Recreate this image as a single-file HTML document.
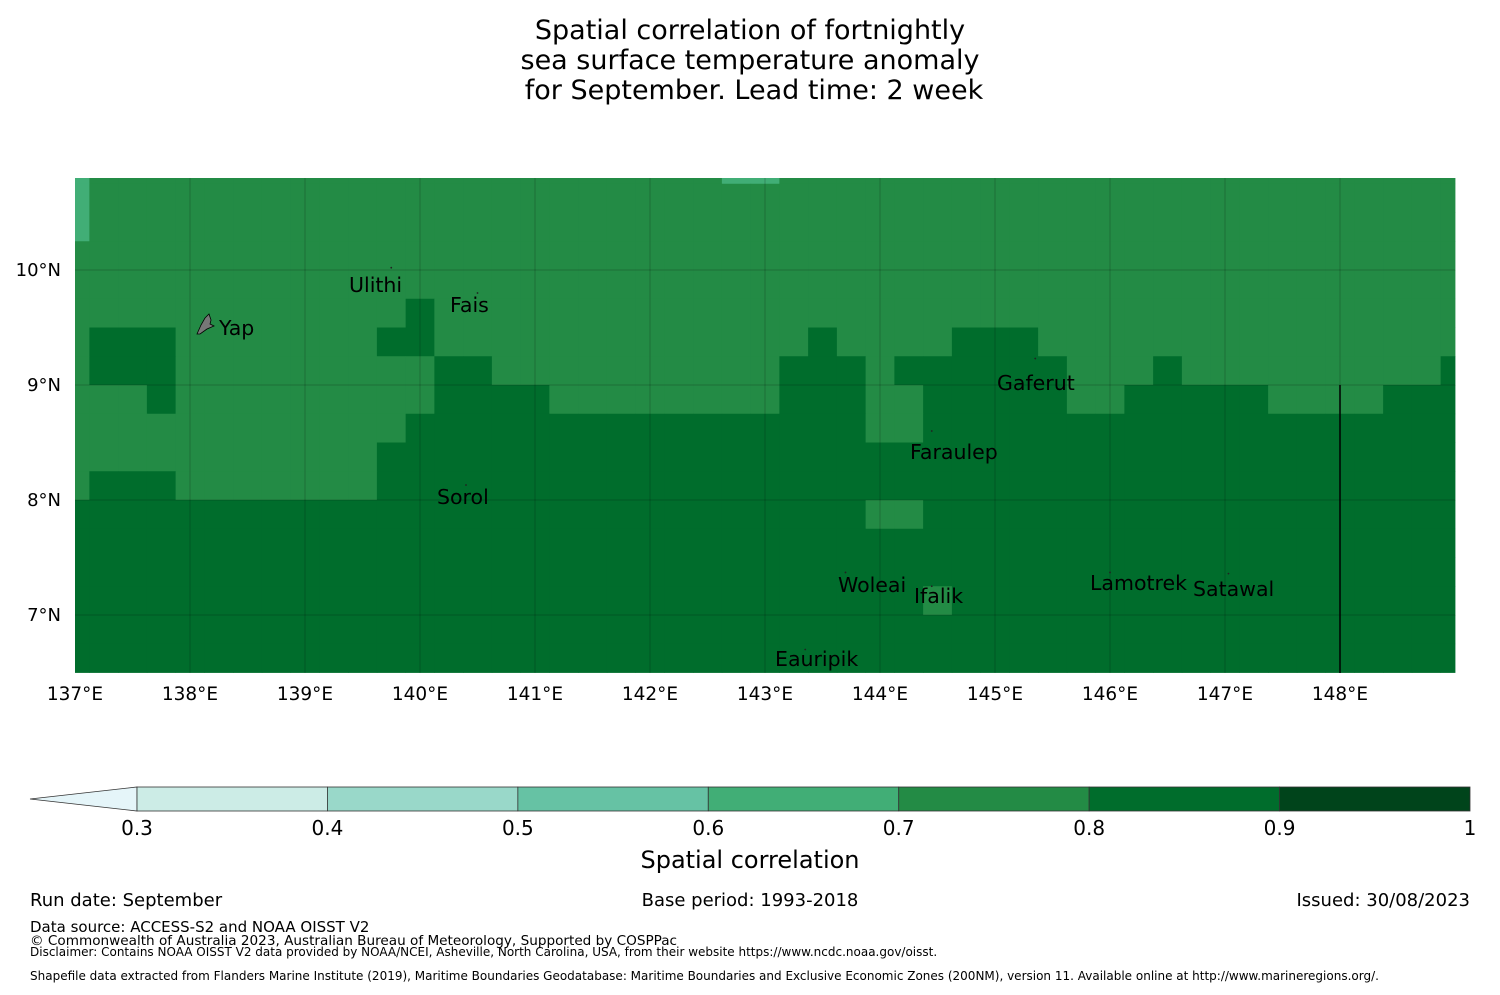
<!DOCTYPE html>
<html><head><meta charset="utf-8">
<style>
body{margin:0;background:#fff;font-family:"Liberation Sans","DejaVu Sans",sans-serif;}
svg text{font-family:"DejaVu Sans","Liberation Sans",sans-serif;}
</style></head>
<body>
<svg id="chart" width="1500" height="990" viewBox="0 0 1500 990" xmlns="http://www.w3.org/2000/svg">
<g font-size="27" text-anchor="middle" fill="#000">
<text x="750" y="39">Spatial correlation of fortnightly</text>
<text x="750" y="69">sea surface temperature anomaly</text>
<text x="754" y="99">for September. Lead time: 2 week</text>
</g>
<g id="map"></g>
<g id="cbar"></g>
<g fill="#000">
<text x="30" y="906" font-size="18">Run date: September</text>
<text x="750" y="906" font-size="18" text-anchor="middle">Base period: 1993-2018</text>
<text x="1470" y="906" font-size="18" text-anchor="end">Issued: 30/08/2023</text>
<text x="30" y="932" font-size="15">Data source: ACCESS-S2 and NOAA OISST V2</text>
<text x="30" y="945" font-size="13.6">© Commonwealth of Australia 2023, Australian Bureau of Meteorology, Supported by COSPPac</text>
<text x="30" y="956" font-size="12">Disclaimer: Contains NOAA OISST V2 data provided by NOAA/NCEI, Asheville, North Carolina, USA, from their website https://www.ncdc.noaa.gov/oisst.</text>
<text x="30" y="980" font-size="12">Shapefile data extracted from Flanders Marine Institute (2019), Maritime Boundaries Geodatabase: Maritime Boundaries and Exclusive Economic Zones (200NM), version 11. Available online at http://www.marineregions.org/.</text>
</g>
</svg>
<script>
const rowCodes = [
"LMMMMMMMMMMMMMMMMMMMMMMLLMMMMMMMMMMMMMMMMMMMMMMMM",
"LMMMMMMMMMMMMMMMMMMMMMMMMMMMMMMMMMMMMMMMMMMMMMMMM",
"LMMMMMMMMMMMMMMMMMMMMMMMMMMMMMMMMMMMMMMMMMMMMMMMM",
"MMMMMMMMMMMMMMMMMMMMMMMMMMMMMMMMMMMMMMMMMMMMMMMMM",
"MMMMMMMMMMMMMMMMMMMMMMMMMMMMMMMMMMMMMMMMMMMMMMMMM",
"MMMMMMMMMMMMDMMMMMMMMMMMMMMMMMMMMMMMMMMMMMMMMMMMM",
"MDDDMMMMMMMDDMMMMMMMMMMMMMDMMMMDDDMMMMMMMMMMMMMMM",
"MDDDMMMMMMMMMDDMMMMMMMMMMDDDMDDDDDDMMMDMMMMMMMMMD",
"MMMDMMMMMMMMMDDDDMMMMMMMMDDDMMDDDDDMMDDDDDMMMMDDD",
"MMMMMMMMMMMMDDDDDDDDDDDDDDDDMMDDDDDDDDDDDDDDDDDDD",
"MMMMMMMMMMMDDDDDDDDDDDDDDDDDDDDDDDDDDDDDDDDDDDDDD",
"MDDDMMMMMMMDDDDDDDDDDDDDDDDDDDDDDDDDDDDDDDDDDDDDD",
"DDDDDDDDDDDDDDDDDDDDDDDDDDDDMMDDDDDDDDDDDDDDDDDDD",
"DDDDDDDDDDDDDDDDDDDDDDDDDDDDDDDDDDDDDDDDDDDDDDDDD",
"DDDDDDDDDDDDDDDDDDDDDDDDDDDDDDDDDDDDDDDDDDDDDDDDD",
"DDDDDDDDDDDDDDDDDDDDDDDDDDDDDDMDDDDDDDDDDDDDDDDDD",
"DDDDDDDDDDDDDDDDDDDDDDDDDDDDDDDDDDDDDDDDDDDDDDDDD",
"DDDDDDDDDDDDDDDDDDDDDDDDDDDDDDDDDDDDDDDDDDDDDDDDD"
];
const codeValues = {L:0.65, M:0.75, D:0.85};
const levels = [0.3,0.4,0.5,0.6,0.7,0.8,0.9,1.0];
const levelColors = ["#ccece6","#99d8c9","#66c2a4","#41ae76","#238b45","#006d2c","#00441b"];
const lonTicks = [137,138,139,140,141,142,143,144,145,146,147,148];
const latTicks = [10,9,8,7];
const places = [
 {name:"Ulithi",lon:139.75,lat:10.02,tx:349,ty:292},
 {name:"Fais",lon:140.5,lat:9.8,tx:450,ty:312},
 {name:"Yap",lon:138.12,lat:9.52,tx:219,ty:335},
 {name:"Gaferut",lon:145.35,lat:9.23,tx:997,ty:390},
 {name:"Faraulep",lon:144.45,lat:8.6,tx:910,ty:459},
 {name:"Sorol",lon:140.4,lat:8.13,tx:437,ty:504},
 {name:"Woleai",lon:143.7,lat:7.37,tx:838,ty:592},
 {name:"Ifalik",lon:144.45,lat:7.25,tx:914,ty:603},
 {name:"Lamotrek",lon:146.0,lat:7.37,tx:1090,ty:590},
 {name:"Satawal",lon:147.03,lat:7.36,tx:1193,ty:596},
 {name:"Eauripik",lon:143.35,lat:6.7,tx:775,ty:666}
];
const NS="http://www.w3.org/2000/svg";
const X0=75,X1=1455,Y0=178,Y1=673;
const lonX = lon => 75 + (lon-137)*115;
const latY = lat => 385 - (lat-9)*115;
function colorFor(v){for(let i=0;i<levelColors.length;i++){if(v>=levels[i]&&v<levels[i+1])return levelColors[i];}return levelColors[levelColors.length-1];}
function mk(tag,attrs,parent){const e=document.createElementNS(NS,tag);for(const k in attrs)e.setAttribute(k,attrs[k]);parent.appendChild(e);return e;}
const map=document.getElementById('map');
const cells=mk('g',{},map);


rowCodes.forEach((row,r)=>{
  const latTop=11-0.25*r, latBot=10.75-0.25*r;
  for(let c=0;c<row.length;c++){
    const lonL = c===0?137:137.125+0.25*(c-1);
    const lonR = Math.min(149,137.125+0.25*c);
    const x=lonX(lonL), x2=lonX(lonR);
    const y=Math.max(Y0,latY(latTop)), y2=latY(latBot);
    const rect=mk('rect',{x:x,y:y,width:x2-x+0.4,height:y2-y+0.4,fill:colorFor(codeValues[row[c]])},cells);
    
    
  }
});
const grid=mk('g',{stroke:'#000','stroke-opacity':0.2,'stroke-width':1},map);


lonTicks.forEach(l=>{if(l>137)mk('line',{x1:lonX(l),x2:lonX(l),y1:Y0,y2:Y1},grid);});
latTicks.forEach(l=>mk('line',{x1:X0,x2:X1,y1:latY(l),y2:latY(l)},grid));
const eez=mk('line',{x1:lonX(148),x2:lonX(148),y1:latY(9),y2:Y1,stroke:'#000','stroke-width':1.5},map);


lonTicks.forEach(l=>{
  const t=mk('text',{x:lonX(l),y:700,'font-size':18.5,'text-anchor':'middle'},map);
  t.textContent=l+'°E';
  
  
});
latTicks.forEach(l=>{
  const t=mk('text',{x:61,y:latY(l)+6,'font-size':18,'text-anchor':'end'},map);
  t.textContent=l+'°N';
  
  
});
places.forEach(p=>{
  mk('circle',{cx:lonX(p.lon),cy:latY(p.lat),r:0.9,fill:'#222'},map);
  const t=mk('text',{x:p.tx,y:p.ty,'font-size':20.5},map);
  t.textContent=p.name;
  
  
});
const yap=mk('path',{d:'M197,334 L201,325 L205,318 L209,314 L211,320 L210,324 L214,326 L207,329 L200,334 Z',fill:'#777',stroke:'#000','stroke-width':0.8},map);


const cb=document.getElementById('cbar');
const CBX0=137,CBX1=1470,CBY=787,CBH=24;
const cbX=v=>CBX0+(v-0.3)/(0.7)*(CBX1-CBX0);
const ext=mk('path',{d:`M30,799 L${CBX0},${CBY} L${CBX0},${CBY+CBH} Z`,fill:'#e5f5f9',stroke:'#333','stroke-width':0.8},cb);


for(let i=0;i<levelColors.length;i++){
  const r=mk('rect',{x:cbX(levels[i]),y:CBY,width:cbX(levels[i+1])-cbX(levels[i]),height:CBH,fill:levelColors[i],stroke:'#333','stroke-width':0.8},cb);
  
  
}
levels.forEach(v=>{
  const t=mk('text',{x:cbX(v),y:835,'font-size':20,'text-anchor':'middle'},cb);
  t.textContent=(v===1?'1':v.toFixed(1));
  
  
});
const cbt=mk('text',{x:750,y:868,'font-size':24,'text-anchor':'middle'},cb);
cbt.textContent='Spatial correlation';


</script>
</body></html>
